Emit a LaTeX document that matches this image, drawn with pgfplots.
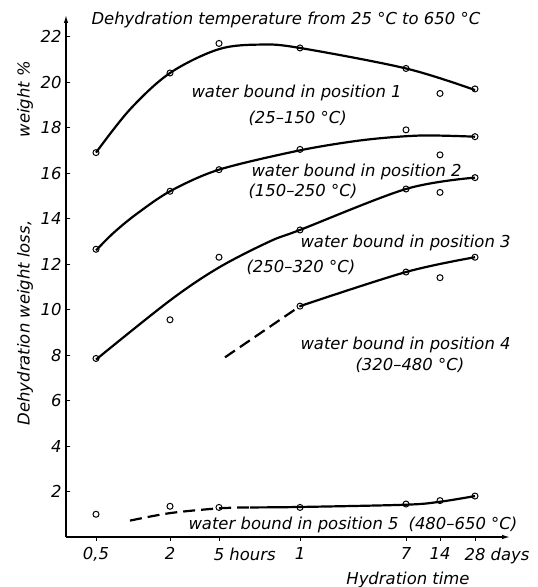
\documentclass[border=0pt]{standalone}
\usepackage{fontspec}
\setmainfont{DejaVu Sans}
\usepackage{pgfplots}
\pgfplotsset{compat=1.18}
\usetikzlibrary{arrows.meta}
\newcommand{\lf}{\fontsize{16.5}{19}\selectfont\itshape}
\begin{document}
\begin{tikzpicture}[font=\lf]
\useasboundingbox (0,0) rectangle (538bp,587bp);
\begin{axis}[
  at={(66bp,50bp)}, anchor=south west,
  scale only axis, width=444bp, height=522bp,
  xmin=66, xmax=510, ymin=0, ymax=22.95,
  axis lines=left,
  axis line style={line width=1.3bp,-{Latex[length=8bp,width=4.5bp]}},
  xtick={96,170,219,300,406,440,475},
  xticklabels={{0,5},2,5\rlap{ hours},1,7,14,28\rlap{ days}},
  ytick={2,4,6,8,10,12,14,16,18,20,22},
  /pgf/number format/assume math mode=true,
  tick label style={font=\lf},
  xticklabel style={yshift=-3bp},
  yticklabel style={xshift=-1bp},
  major tick length=4bp,
  tick style={line width=0.8bp, black},
  xtick align=outside, ytick align=inside,
  clip=false,
]
% curves
\addplot[line width=2.2bp, smooth, tension=0.55] coordinates {(96,16.9) (130,18.8) (170,20.4) (219,21.45) (262,21.65) (300,21.5) (406,20.6) (475,19.65)};
\addplot[line width=2.2bp, smooth, tension=0.5] coordinates {(96,12.6) (113,13.35) (135,14.15) (170,15.2) (219,16.15) (300,17.0) (363,17.45) (420,17.65) (475,17.6)};
\addplot[line width=2.2bp, smooth, tension=0.55] coordinates {(96,7.8) (170,10.4) (219,11.85) (270,13.0) (300,13.5) (406,15.3) (475,15.8)};
\addplot[line width=2.2bp, smooth, tension=0.55] coordinates {(300,10.15) (406,11.65) (475,12.3)};
\addplot[line width=2.2bp, dash pattern=on 12bp off 6bp] coordinates {(225,7.9) (300,10.15)};
\addplot[line width=2.2bp, smooth, tension=0.55, dash pattern=on 12bp off 6bp] coordinates {(130,0.72) (170,1.05) (219,1.26) (250,1.3)};
\addplot[line width=2.2bp, smooth, tension=0.55] coordinates {(250,1.3) (300,1.32) (406,1.42) (440,1.55) (475,1.8)};
% measured points
\addplot[only marks, mark=o, mark size=3bp, mark options={line width=1bp, fill=white}] coordinates {
 (96,16.9) (170,20.4) (219,21.7) (300,21.5) (406,20.6) (440,19.5) (475,19.7)
 (96,12.65) (170,15.2) (219,16.15) (300,17.04) (406,17.9) (440,16.8) (475,17.6)
 (96,7.85) (170,9.55) (219,12.3) (300,13.5) (406,15.3) (440,15.15) (475,15.8)
 (300,10.15) (406,11.65) (440,11.4) (475,12.3)
 (96,1.0) (170,1.35) (219,1.3) (300,1.3) (406,1.45) (440,1.6) (475,1.8)
};
\end{axis}
\node[anchor=west] at (88bp,567bp) {Dehydration temperature from 25 °C to 650 °C};
\node[anchor=west] at (188bp,494bp) {water bound in position 1};
\node[anchor=west] at (245bp,469bp) {(25--150 °C)};
\node[anchor=west] at (248bp,415bp) {water bound in position 2};
\node[anchor=west] at (245bp,396bp) {(150--250 °C)};
\node[anchor=west] at (297bp,344bp) {water bound in position 3};
\node[anchor=west] at (243bp,320bp) {(250--320 °C)};
\node[anchor=west] at (297bp,242bp) {water bound in position 4};
\node[anchor=west] at (352bp,222bp) {(320--480 °C)};
\node[anchor=west] at (185bp,62bp) {water bound in position 5\hspace{10bp}(480--650 °C)};
\node at (408bp,7bp) {Hydration time};
\node[rotate=90] at (25bp,264bp) {Dehydration weight loss,};
\node[rotate=90] at (25bp,488bp) {weight \%};
\end{tikzpicture}
\end{document}
